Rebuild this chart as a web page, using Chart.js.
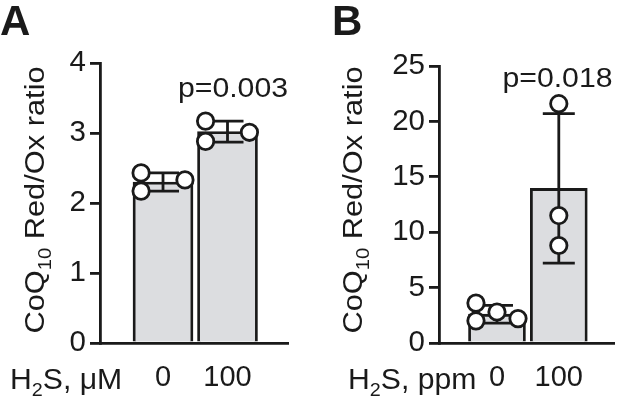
<!DOCTYPE html>
<html lang="en">
<head>
  <meta charset="UTF-8" />
  <title>CoQ10 Red/Ox ratio - H2S</title>
  <script src="https://cdn.jsdelivr.net/npm/chart.js"></script>
  <style>
    html, body { margin: 0; padding: 0; background: #fff; }
    .wrap { position: relative; width: 625px; height: 401px; overflow: hidden; }
    canvas { position: absolute; top: 0; }
    #chartA { left: 0; }
    #chartB { left: 310px; }
  </style>
</head>
<body>
  <div class="wrap">
    <canvas id="chartA" width="305" height="401"></canvas>
    <canvas id="chartB" width="315" height="401"></canvas>
  </div>

  <script>
    // ---- data, panel A (H2S in uM) ----
    const groupsA = ["0", "100"];
    const meanA = [2.30, 3.02];
    const sdA = [0.13, 0.15];
    const pointsA = [[2.43, 2.17, 2.33], [3.17, 2.88, 3.01]];
    const yTicksA = [0, 1, 2, 3, 4];
    const pValueA = "p=0.003";

    // ---- data, panel B (H2S in ppm) ----
    const groupsB = ["0", "100"];
    const meanB = [2.6, 13.95];
    const sdB = [0.8, 6.75];
    const pointsB = [[3.6, 2.0, 2.8, 2.2], [21.6, 11.5, 8.8]];
    const yTicksB = [0, 5, 10, 15, 20, 25];
    const pValueB = "p=0.018";

    // labels with subscripts: [text, isSubscript]
    const yTitleParts = [["CoQ", false], ["10", true], [" Red/Ox ratio", false]];
    const xNameA = [["H", false], ["2", true], ["S, \u03bcM", false]];
    const xNameB = [["H", false], ["2", true], ["S, ppm", false]];

    const INK = "#1a1a1a";
    const FILL = "#dcdde0";
    const LINE = 2.8;
    const FAMILY = "'Liberation Sans', Arial, Helvetica, sans-serif";
    Chart.defaults.font.family = FAMILY;
    Chart.defaults.color = INK;

    function drawParts(ctx, parts, size, stretch, align) {
      const subSize = Math.round(size * 0.65);
      let w = 0;
      parts.forEach(([t, sub]) => {
        ctx.font = `${sub ? subSize : size}px ${FAMILY}`;
        w += ctx.measureText(t).width;
      });
      ctx.save();
      ctx.scale(stretch, 1);
      let cx = align === "center" ? -w / 2 : 0;
      ctx.textAlign = "left";
      ctx.textBaseline = "alphabetic";
      ctx.fillStyle = INK;
      parts.forEach(([t, sub]) => {
        ctx.font = `${sub ? subSize : size}px ${FAMILY}`;
        ctx.fillText(t, cx, sub ? size * 0.24 : 0);
        cx += ctx.measureText(t).width;
      });
      ctx.restore();
    }

    function errorBars(mean, sd, capWidth) {
      return {
        id: "errorBars",
        afterDatasetDraw(chart, args) {
          if (args.index !== 0) return;
          const { ctx, scales: { x, y } } = chart;
          const hw = capWidth / 2;
          ctx.save();
          ctx.strokeStyle = INK;
          ctx.lineWidth = LINE;
          mean.forEach((m, i) => {
            const px = x.getPixelForValue(i);
            const top = y.getPixelForValue(m + sd[i]);
            const bot = y.getPixelForValue(m - sd[i]);
            ctx.beginPath();
            ctx.moveTo(px, top); ctx.lineTo(px, bot);
            ctx.moveTo(px - hw, top); ctx.lineTo(px + hw, top);
            ctx.moveTo(px - hw, bot); ctx.lineTo(px + hw, bot);
            ctx.stroke();
          });
          ctx.restore();
        }
      };
    }

    function labels(spec) {
      return {
        id: "panelText",
        afterDraw(chart) {
          const ctx = chart.ctx;
          ctx.save();
          // panel letter
          ctx.fillStyle = INK;
          ctx.font = `bold 42px ${FAMILY}`;
          ctx.textAlign = "left";
          ctx.textBaseline = "alphabetic";
          ctx.fillText(spec.letter, spec.letterX, 35);
          // y title, rotated
          ctx.save();
          ctx.translate(spec.titleX, 200);
          ctx.rotate(-Math.PI / 2);
          drawParts(ctx, yTitleParts, 27.5, 1.12, "center");
          ctx.restore();
          // x name
          ctx.save();
          ctx.translate(spec.nameX, 389);
          drawParts(ctx, spec.name, 29, 1.04, "left");
          ctx.restore();
          // p value
          ctx.save();
          ctx.translate(spec.pX, spec.pY);
          drawParts(ctx, [[spec.p, false]], 27.5, 1.1, "center");
          ctx.restore();
          ctx.restore();
        }
      };
    }

    function makeChart(id, d) {
      const scatter = [];
      d.points.forEach((grp, i) => {
        grp.forEach((v, k) => scatter.push({ x: i + d.jitter[i][k], y: v }));
      });
      return new Chart(document.getElementById(id), {
        data: {
          datasets: [
            {
              type: "bar",
              data: d.mean.map((m, i) => ({ x: i, y: m })),
              backgroundColor: FILL,
              borderColor: INK,
              borderWidth: LINE,
              barThickness: d.barWidth,
              order: 2
            },
            {
              type: "scatter",
              data: scatter,
              pointRadius: 8.2,
              pointBorderWidth: LINE,
              pointBackgroundColor: "#ffffff",
              pointBorderColor: INK,
              order: 1
            }
          ]
        },
        options: {
          responsive: false,
          animation: false,
          events: [],
          layout: { padding: { top: d.top, right: d.right, bottom: 0, left: 0 } },
          plugins: { legend: { display: false }, tooltip: { enabled: false } },
          scales: {
            x: {
              type: "linear",
              offset: false,
              bounds: "data",
              min: d.xMin,
              max: d.xMax,
              grid: { display: false, drawTicks: false, offset: false },
              border: { display: true, color: INK, width: LINE },
              ticks: {
                font: { size: 29 },
                color: INK,
                padding: 18,
                callback: v => d.groups[v] ?? ""
              },
              afterBuildTicks: s => {
                s.ticks = d.groups.map((_, i) => ({ value: i }));
                s.min = d.xMin;
                s.max = d.xMax;
              },
              afterFit: s => { s.height = 58; }
            },
            y: {
              min: 0,
              max: d.yTicks[d.yTicks.length - 1],
              grid: { display: true, drawOnChartArea: false, drawTicks: true, tickLength: 10, color: INK, lineWidth: LINE },
              border: { display: true, color: INK, width: LINE },
              ticks: { font: { size: 29.5 }, color: INK, padding: 4 },
              afterBuildTicks: s => { s.ticks = d.yTicks.map(v => ({ value: v })); },
              afterFit: s => { s.width = d.left; }
            }
          }
        },
        plugins: [errorBars(d.mean, d.sd, 32), labels(d.text)]
      });
    }

    makeChart("chartA", {
      groups: groupsA, mean: meanA, sd: sdA, points: pointsA, yTicks: yTicksA,
      jitter: [[-0.34, -0.34, 0.34], [-0.34, -0.34, 0.34]],
      xMin: -0.977, xMax: 1.938, left: 100, top: 63, right: 17, barWidth: 60,
      text: { letter: "A", letterX: 0, titleX: 44, name: xNameA, nameX: 10, p: pValueA, pX: 233, pY: 97 }
    });

    makeChart("chartB", {
      groups: groupsB, mean: meanB, sd: sdB, points: pointsB, yTicks: yTicksB,
      jitter: [[-0.34, -0.34, 0, 0.34], [0, 0, 0]],
      xMin: -0.938, xMax: 1.893, left: 129, top: 66, right: 2, barWidth: 57,
      text: { letter: "B", letterX: 22, titleX: 52, name: xNameB, nameX: 38, p: pValueB, pX: 247.5, pY: 87 }
    });
  </script>
</body>
</html>
